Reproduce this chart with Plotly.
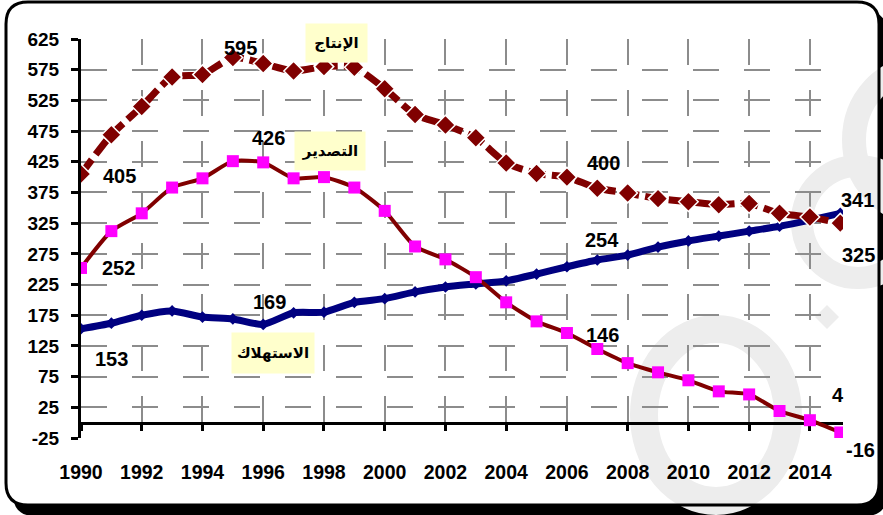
import plotly.graph_objects as go

# ---------------- data ----------------
years = [1990, 1991, 1992, 1993, 1994, 1995, 1996, 1997, 1998, 1999, 2000, 2001, 2002,
         2003, 2004, 2005, 2006, 2007, 2008, 2009, 2010, 2011, 2012, 2013, 2014, 2015]
production = [405, 469, 515, 563, 567, 595, 585, 573, 580, 579, 544, 502, 485,
              464, 423, 406, 400, 382, 374, 365, 360, 355, 357, 341, 335, 325]
export = [252, 312, 341, 383, 398, 426, 424, 398, 400, 383, 345, 287, 266,
          237, 196, 165, 146, 120, 97, 82, 69, 51, 46, 19, 4, -16]
consumption = [153, 162, 175, 182, 172, 169, 160, 179, 180, 196, 202, 213, 221,
               226, 231, 242, 254, 265, 273, 286, 296, 304, 312, 320, 330, 341]
x_tick_values = [1990, 1992, 1994, 1996, 1998, 2000, 2002, 2004, 2006, 2008, 2010, 2012, 2014]
x_tick_labels = ["1990", "1992", "1994", "1996", "1998", "2000", "2002", "2004", "2006",
                 "2008", "2010", "2012", "2014"]
y_tick_values = [-25, 25, 75, 125, 175, 225, 275, 325, 375, 425, 475, 525, 575, 625]
y_tick_labels = ["-25", "25", "75", "125", "175", "225", "275", "325", "375", "425",
                 "475", "525", "575", "625"]
name_production = "الإنتاج"
name_export = "التصدير"
name_consumption = "الاستهلاك"

# ---------------- geometry helpers (pixel -> paper) ----------------
FW, FH = 883, 515
L, R, T, B = 81, 843, 39, 438
PW, PH = R - L, B - T


def px(x):
    return (x - L) / PW


def py(y):
    return (B - y) / PH


def rounded_rect(x0, y0, x1, y1, r):
    return (f"M {px(x0 + r)},{py(y0)} L {px(x1 - r)},{py(y0)} "
            f"Q {px(x1)},{py(y0)} {px(x1)},{py(y0 + r)} L {px(x1)},{py(y1 - r)} "
            f"Q {px(x1)},{py(y1)} {px(x1 - r)},{py(y1)} L {px(x0 + r)},{py(y1)} "
            f"Q {px(x0)},{py(y1)} {px(x0)},{py(y1 - r)} L {px(x0)},{py(y0 + r)} "
            f"Q {px(x0)},{py(y0)} {px(x0 + r)},{py(y0)} Z")


def box(cx, cy, rx, ry):
    return dict(x0=px(cx - rx), x1=px(cx + rx), y0=py(cy + ry), y1=py(cy - ry))


WM = "#ededed"
shapes = [
    dict(type="path", path=rounded_rect(13, 11, 887, 516, 22), xref="paper", yref="paper",
         fillcolor="black", line=dict(width=0), layer="below"),
    dict(type="path", path=rounded_rect(6, 2, 879, 505, 22), xref="paper", yref="paper",
         fillcolor="white", line=dict(width=0), layer="below"),
    # faint watermark
    dict(type="circle", xref="paper", yref="paper", layer="below",
         line=dict(color=WM, width=28), **box(716, 415, 72, 86)),
    dict(type="circle", xref="paper", yref="paper", layer="below",
         line=dict(color=WM, width=22), **box(858, 222, 56, 56)),
    dict(type="circle", xref="paper", yref="paper", layer="below",
         line=dict(color=WM, width=24), **box(920, 140, 66, 72)),
    dict(type="path", xref="paper", yref="paper", layer="below", fillcolor=WM, line=dict(width=0),
         path=f"M {px(827)},{py(305)} L {px(839)},{py(317)} L {px(827)},{py(329)} L {px(815)},{py(317)} Z"),
    dict(type="path", path=rounded_rect(6, 2, 879, 505, 22), xref="paper", yref="paper",
         fillcolor="rgba(0,0,0,0)", line=dict(color="black", width=3), layer="below"),
]

fig = go.Figure()
fig.add_trace(go.Scatter(
    x=years, y=consumption, mode="lines+markers", name=name_consumption,
    line=dict(color="#000080", width=7, shape="spline", smoothing=0.6),
    marker=dict(symbol="diamond", size=9, color="#000080"), hoverinfo="skip"))
fig.add_trace(go.Scatter(
    x=years, y=export, mode="lines+markers", name=name_export,
    line=dict(color="#800000", width=4, shape="spline", smoothing=0.6),
    marker=dict(symbol="square", size=12, color="#FF00FF", line=dict(width=0)), hoverinfo="skip"))
fig.add_trace(go.Scatter(
    x=years, y=production, mode="lines+markers", name=name_production,
    line=dict(color="#800000", width=7, dash="18px,6px", shape="spline", smoothing=0.6),
    marker=dict(symbol="diamond", size=15, color="#800000", line=dict(color="white", width=1.5)),
    hoverinfo="skip"))
# dummy trace to activate the zero-line x axis
fig.add_trace(go.Scatter(x=[years[0]], y=[None], xaxis="x2", showlegend=False, hoverinfo="skip"))

num_font = dict(family="Liberation Sans, Arial", size=20, color="black", weight="bold")
# (series, index, label x pixel, label y pixel)
label_specs = [
    (production, 0, 119, 176), (production, 5, 240, 48), (production, 16, 603, 163),
    (production, 25, 858, 255),
    (export, 0, 118, 268), (export, 5, 268, 138), (export, 16, 602, 335),
    (export, 24, 838, 395), (export, 25, 860, 450),
    (consumption, 0, 111, 359), (consumption, 5, 269, 302), (consumption, 16, 602, 240),
    (consumption, 25, 857, 200),
]
annotations = [dict(x=px(lx), y=py(ly), xref="paper", yref="paper", text=str(series[i]),
                    xanchor="center", yanchor="middle", showarrow=False, font=num_font)
               for series, i, lx, ly in label_specs]

ar_font = dict(family="DejaVu Sans", size=15, color="black", weight="bold")
for text, lx, ly, w, h in [(name_production, 336, 43, 61, 38),
                           (name_export, 330, 151, 70, 38),
                           (name_consumption, 273, 353, 82, 40)]:
    annotations.append(dict(x=px(lx), y=py(ly), xref="paper", yref="paper", text=text,
                            xanchor="center", yanchor="middle",
                            showarrow=False, font=ar_font, bgcolor="#FFFFCC",
                            width=w, height=h, borderpad=0))

grid = dict(showgrid=True, gridcolor="#8c8c8c", gridwidth=1.5, griddash="26px,25px")
xtick_font = dict(family="Liberation Sans, Arial", size=19.5, color="black", weight="bold")
ytick_font = dict(family="Liberation Sans, Arial", size=19, color="black", weight="bold")

fig.update_layout(
    width=FW, height=FH,
    margin=dict(l=L, r=FW - R, t=T, b=FH - B, autoexpand=False),
    paper_bgcolor="white", plot_bgcolor="rgba(0,0,0,0)",
    showlegend=False,
    shapes=shapes,
    annotations=annotations,
    xaxis=dict(range=[1990, 2015.09], tickmode="array", tickvals=x_tick_values,
               ticktext=x_tick_labels, ticks="", showline=False, zeroline=False,
               tickfont=xtick_font, ticklabelstandoff=20, **grid),
    xaxis2=dict(overlaying="x", anchor="free", position=25 / 650, matches="x",
                range=[1990, 2015.09], showline=True, linecolor="black", linewidth=3,
                ticks="outside", ticklen=6, tickwidth=3, tickcolor="black",
                tickmode="array", tickvals=x_tick_values, showticklabels=False,
                showgrid=False, zeroline=False, layer="below traces"),
    yaxis=dict(range=[-25, 625], tickmode="array", tickvals=y_tick_values,
               ticktext=y_tick_labels, showline=True, linecolor="black", linewidth=3,
               ticks="outside", ticklen=7, tickwidth=3, tickcolor="black",
               zeroline=False, tickfont=ytick_font, ticklabelstandoff=8,
               layer="below traces", **grid),
)

fig.write_html("out.html", config={"displayModeBar": False},
               post_script="document.body.style.margin='0';document.body.style.overflow='hidden';")
